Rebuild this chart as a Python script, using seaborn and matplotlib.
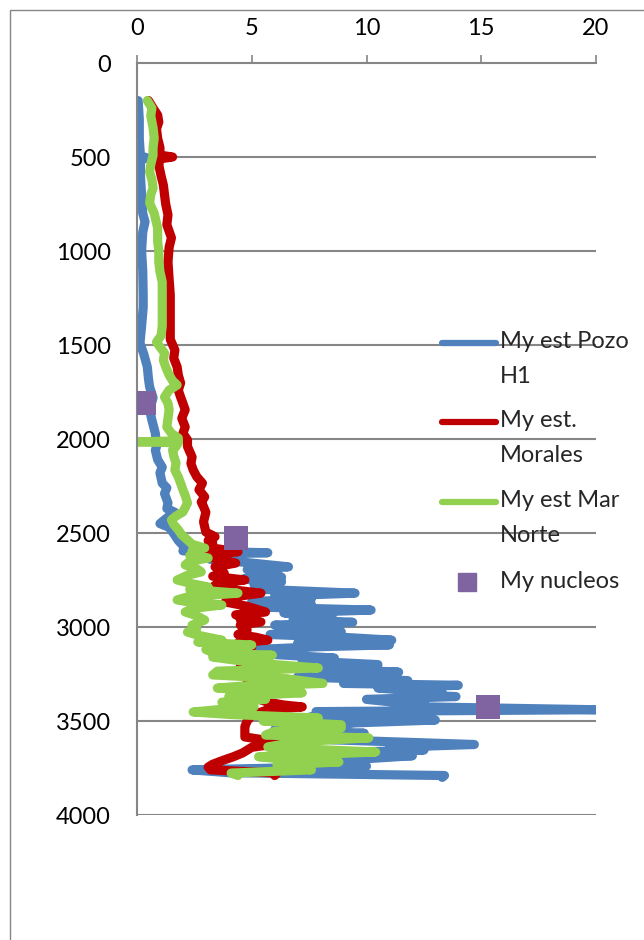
import numpy as np
import pandas as pd
import matplotlib.pyplot as plt
from matplotlib.lines import Line2D
from matplotlib.patches import Rectangle
import seaborn as sns

# depth (m) / value pairs
pozo_depth = [200, 300, 400, 495, 505, 515, 600, 700, 800, 845, 900, 1000, 1100, 1235, 1300,
              1400, 1490, 1550, 1617, 1680, 1723, 1780, 1845, 1900, 1970, 2040, 2060, 2110,
              2150, 2180, 2235, 2260, 2290, 2340, 2370, 2390, 2420, 2450, 2470, 2485, 2540,
              2580, 2595, 2605, 2615, 2640, 2655, 2680, 2695, 2710, 2735, 2745, 2760, 2775,
              2800, 2820, 2835, 2850, 2865, 2880, 2895, 2910, 2925, 2945, 2960, 2975, 2990,
              3010, 3025, 3040, 3055, 3070, 3085, 3095, 3105, 3120, 3130, 3145, 3165, 3180,
              3200, 3215, 3240, 3255, 3265, 3285, 3300, 3310, 3325, 3350, 3360, 3370, 3385,
              3400, 3410, 3425, 3440, 3450, 3465, 3480, 3495, 3510, 3520, 3530, 3545, 3565,
              3580, 3600, 3625, 3640, 3655, 3670, 3685, 3705, 3720, 3740, 3760, 3775, 3790, 3800]
pozo_val = [0.05, 0.1, 0.1, 0.15, 0.45, 0.15, 0.15, 0.2, 0.25, 0.35, 0.25, 0.2, 0.25, 0.27, 0.27,
            0.2, 0.13, 0.3, 0.45, 0.5, 0.55, 0.7, 0.55, 0.65, 0.8, 0.85, 0.8, 0.9,
            1.1, 1.0, 1.1, 1.3, 1.2, 1.35, 1.3, 1.65, 1.3, 1.0, 1.4, 1.5, 1.8,
            2.1, 2.0, 5.7, 2.6, 3.2, 4.6, 6.6, 4.8, 5.9, 6.3, 4.6, 6.3, 5.1,
            5.5, 9.5, 6.0, 7.6, 5.0, 7.6, 5.6, 10.2, 6.4, 8.5, 6.8, 9.4, 6.0,
            8.2, 8.9, 5.8, 9.0, 11.1, 7.0, 11.0, 7.9, 5.1, 7.0, 5.8, 8.6, 7.2,
            10.5, 6.8, 11.4, 7.4, 7.0, 11.8, 9.0, 14.0, 10.5, 13.3, 11.5, 13.9, 10.0,
            11.2, 12.5, 12.6, 20.0, 7.8, 9.8, 7.5, 13.0, 9.5, 8.8, 8.9, 6.0, 9.9,
            7.0, 8.5, 14.7, 11.0, 12.5, 8.0, 12.0, 9.4, 7.0, 10.0, 2.4, 4.0, 13.4, 13.3]

morales_depth = [200, 240, 277, 314, 350, 400, 450, 490, 500, 510, 543, 600, 650, 702, 750, 808,
                 860, 930, 980, 1058, 1150, 1234, 1300, 1400, 1470, 1527, 1570, 1617, 1660,
                 1702, 1740, 1777, 1810, 1845, 1890, 1936, 1970, 2005, 2040, 2096, 2130, 2165,
                 2200, 2235, 2270, 2308, 2335, 2360, 2390, 2415, 2440, 2468, 2495, 2520, 2540,
                 2553, 2575, 2600, 2615, 2627, 2645, 2660, 2680, 2713, 2730, 2750, 2770, 2787,
                 2800, 2820, 2840, 2867, 2890, 2920, 2935, 2947, 2960, 2973, 2990, 3016, 3040,
                 3055, 3070, 3085, 3106, 3140, 3160, 3190, 3210, 3240, 3265, 3290, 3320, 3350,
                 3380, 3400, 3415, 3425, 3440, 3470, 3500, 3530, 3548, 3585, 3600, 3617, 3640,
                 3670, 3690, 3707, 3730, 3745, 3760, 3777, 3790]
morales_val = [0.5, 0.7, 0.9, 0.95, 0.85, 0.9, 1.0, 1.0, 1.55, 1.0, 0.95, 1.05, 1.15, 1.2, 1.25, 1.35,
               1.3, 1.5, 1.4, 1.35, 1.4, 1.45, 1.45, 1.45, 1.45, 1.65, 1.6, 1.75, 1.8,
               1.9, 1.8, 1.9, 2.0, 2.1, 1.95, 2.1, 2.0, 2.2, 2.2, 2.4, 2.35, 2.45,
               2.6, 2.85, 2.7, 2.95, 2.8, 2.9, 3.0, 2.95, 2.9, 2.95, 3.0, 3.4, 3.1,
               3.3, 3.0, 4.4, 3.1, 3.1, 3.8, 4.3, 3.4, 3.8, 3.3, 4.7, 3.5, 3.3,
               4.0, 5.4, 4.2, 3.85, 4.8, 5.6, 4.3, 4.6, 4.5, 5.4, 4.5, 4.8, 4.4,
               5.2, 5.7, 4.4, 5.0, 4.3, 4.0, 5.7, 4.5, 4.6, 5.3, 4.8, 4.9, 5.0,
               5.2, 5.7, 6.4, 7.2, 5.7, 5.0, 4.8, 4.7, 4.7, 4.7, 5.5, 6.3, 5.0,
               4.6, 4.2, 3.8, 3.3, 3.1, 3.2, 6.1, 6.0]

mar_depth = [200, 240, 280, 345, 400, 450, 490, 540, 580, 620, 665, 700, 745, 800, 878, 950,
             1000, 1058, 1110, 1165, 1234, 1300, 1400, 1450, 1484, 1510, 1543, 1580, 1617,
             1660, 1690, 1713, 1740, 1777, 1810, 1845, 1890, 1936, 1970, 1995, 2010, 2015,
             2020, 2040, 2058, 2090, 2128, 2165, 2202, 2235, 2270, 2300, 2340, 2365, 2388,
             2410, 2430, 2455, 2483, 2510, 2537, 2560, 2580, 2595, 2606, 2620, 2633, 2650,
             2670, 2690, 2707, 2725, 2750, 2770, 2787, 2800, 2820, 2840, 2856, 2870, 2883,
             2900, 2920, 2940, 2963, 2990, 3010, 3027, 3045, 3070, 3080, 3096, 3120, 3140,
             3150, 3160, 3185, 3200, 3218, 3235, 3255, 3275, 3300, 3315, 3325, 3340, 3350,
             3370, 3385, 3400, 3415, 3425, 3440, 3452, 3465, 3484, 3500, 3520, 3537, 3555,
             3575, 3590, 3610, 3638, 3650, 3665, 3690, 3705, 3718, 3734, 3760, 3777, 3790]
mar_val = [0.45, 0.65, 0.6, 0.7, 0.75, 0.7, 0.7, 0.6, 0.55, 0.65, 0.7, 0.6, 0.55, 0.75, 0.9, 0.9,
           0.95, 0.95, 1.0, 1.1, 1.1, 1.1, 1.1, 1.05, 0.85, 1.0, 1.2, 1.15, 1.25,
           1.4, 1.55, 1.75, 1.4, 1.2, 1.35, 1.4, 1.35, 1.3, 1.5, 1.8, 1.8, 0.0,
           1.8, 1.7, 1.55, 1.6, 1.7, 1.65, 1.8, 1.9, 2.0, 2.1, 2.2, 2.1, 2.0,
           1.7, 1.5, 1.6, 1.8, 1.95, 2.2, 2.4, 2.95, 2.4, 2.65, 2.3, 3.1, 2.3,
           2.1, 2.6, 2.8, 2.2, 1.75, 2.4, 3.1, 2.3, 4.4, 2.2, 1.75, 2.4, 3.7,
           2.5, 2.1, 2.6, 2.95, 2.4, 2.6, 2.2, 2.7, 3.7, 2.65, 5.0, 3.0, 3.4,
           5.9, 3.3, 4.8, 6.0, 7.9, 3.5, 3.3, 6.5, 8.1, 4.5, 3.5, 5.5, 7.2,
           4.0, 5.6, 3.7, 4.0, 5.1, 3.5, 2.45, 4.0, 7.9, 5.5, 8.9, 8.9, 6.0,
           5.6, 10.1, 7.0, 5.7, 7.5, 10.4, 5.3, 6.5, 8.8, 6.1, 7.6, 4.1, 4.4]

nucleos_depth = [1810, 2527, 3425]
nucleos_val = [0.3, 4.3, 15.3]

labels = ["My est Pozo\nH1", "My est.\nMorales", "My est Mar\nNorte", "My nucleos"]
colors = ["#4F81BD", "#C00000", "#92D050", "#8064A2"]
x_ticks = [0, 5, 10, 15, 20]
y_ticks = [0, 500, 1000, 1500, 2000, 2500, 3000, 3500, 4000]

sns.set_style("white")
plt.rcParams["font.family"] = ["Lato", "DejaVu Sans"]
grey = "#868686"

W, H = 644, 940
fig = plt.figure(figsize=(W / 100, H / 100), dpi=100)
ax = fig.add_axes([137 / W, 1 - 815 / H, (596 - 137) / W, (815 - 63) / H])

series = [(pozo_depth, pozo_val), (morales_depth, morales_val), (mar_depth, mar_val)]
for (d, v), c in zip(series, colors[:3]):
    df = pd.DataFrame({"depth": d, "val": v})
    sns.lineplot(data=df, x="val", y="depth", orient="y", sort=False, estimator=None,
                 color=c, linewidth=6.6, solid_capstyle="round", solid_joinstyle="round",
                 ax=ax, legend=False)

nuc = pd.DataFrame({"depth": nucleos_depth, "val": nucleos_val})
sns.scatterplot(data=nuc, x="val", y="depth", marker="s", s=300, color=colors[3],
                edgecolor="none", ax=ax, zorder=5, legend=False)

ax.set_xlim(0, 20)
ax.set_ylim(4000, 0)
ax.set_xticks(x_ticks)
ax.set_yticks(y_ticks)
ax.xaxis.tick_top()
ax.set_xlabel("")
ax.set_ylabel("")
ax.grid(False)
for yv in y_ticks[1:]:
    ax.axhline(yv, color=grey, linewidth=1.5, zorder=0)
for s in ["right", "bottom"]:
    ax.spines[s].set_visible(False)
for s in ["top", "left"]:
    ax.spines[s].set_color(grey)
    ax.spines[s].set_linewidth(1.5)
ax.tick_params(axis="x", direction="out", length=6, width=1.2, color=grey, pad=11,
               labelsize=17, labelcolor="black")
ax.tick_params(axis="y", direction="out", length=7, width=1.2, color=grey, pad=12,
               labelsize=17, labelcolor="black")

# outer chart frame
fig.add_artist(Rectangle((10 / W, -0.5), 2, 1 - 10 / H + 0.5, transform=fig.transFigure,
                         fill=False, edgecolor=grey, linewidth=1))

# legend drawn like the spreadsheet one
leg_y = [343, 422, 502]
for lab, c, yy in zip(labels[:3], colors[:3], leg_y):
    fig.add_artist(Line2D([442 / W, 496 / W], [1 - yy / H] * 2, transform=fig.transFigure,
                          color=c, linewidth=4.5, solid_capstyle="round"))
    fig.text(500 / W, 1 - (yy - 12) / H, lab, fontsize=17, va="top", linespacing=1.85)
fig.add_artist(Line2D([467 / W], [1 - 582 / H], transform=fig.transFigure, marker="s",
                      markersize=13.5, color=colors[3], linestyle="none"))
fig.text(500 / W, 1 - 582 / H, labels[3], fontsize=17, va="center")

fig.savefig("out.png", dpi=100)
